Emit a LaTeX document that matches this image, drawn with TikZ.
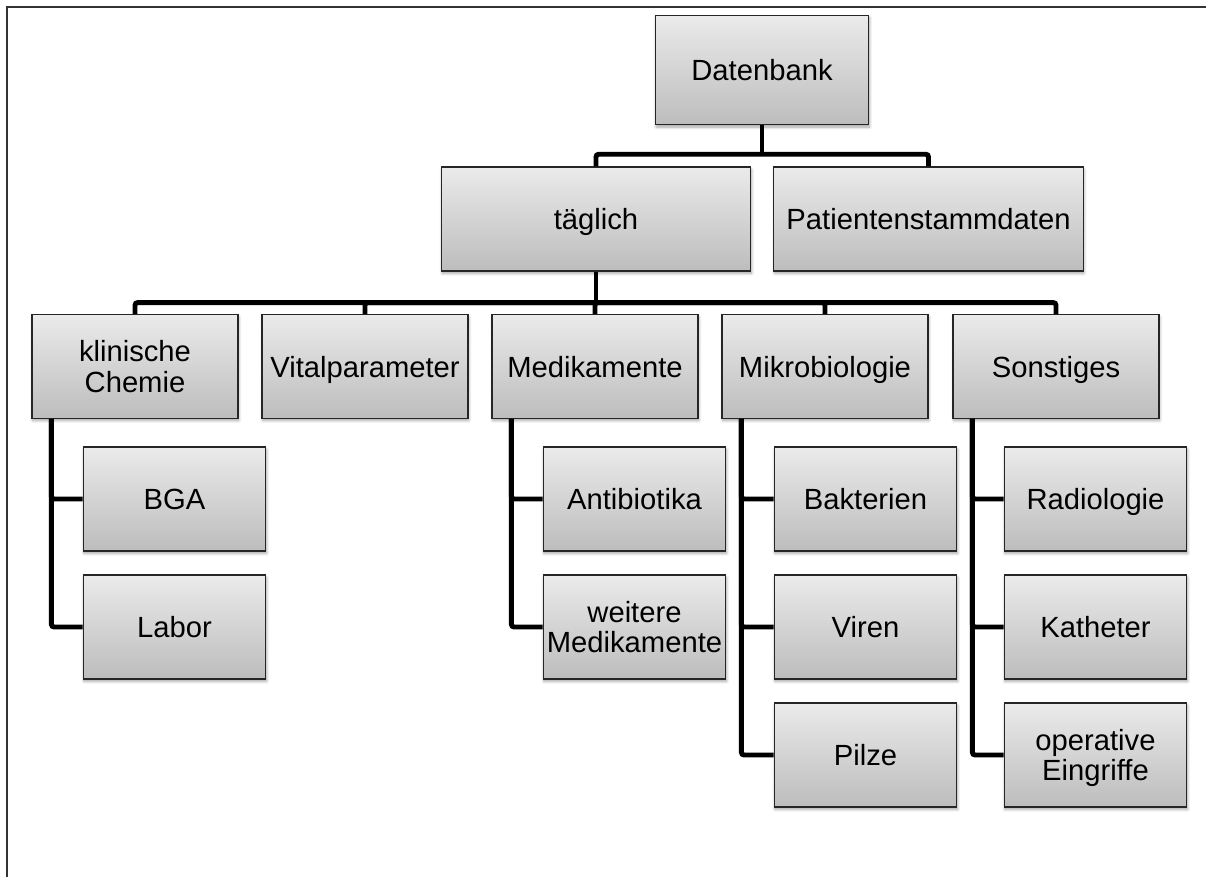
\documentclass[tikz,border=0pt]{standalone}
\usepackage{fontspec}
\setmainfont{Liberation Sans}
\usepackage{tikz}
\usetikzlibrary{shadows.blur}

\begin{document}
\begin{tikzpicture}
  [
    x=0.75pt, y=-0.75pt,
    Box/.style={rectangle, draw=black!85, line width=0.9pt, top color=black!8, bottom color=black!26,
      blur shadow={shadow xshift=0.6pt, shadow yshift=-1.8pt, shadow blur steps=6, shadow opacity=35},
      align=center, inner sep=1pt, text depth=0pt, font=\fontsize{21.9}{23}\selectfont},
    Wide/.style={Box, minimum width=232pt, minimum height=78pt},
    Head/.style={Box, minimum width=160pt, minimum height=82pt},
    Mid/.style={Box, minimum width=154.5pt, minimum height=77.5pt},
    Leaf/.style={Box, minimum width=137pt, minimum height=78pt},
    Line/.style={line width=3.7pt, rounded corners=2pt},
    Frame/.style={line width=1.5pt, draw=black!80}
  ]
  \useasboundingbox (0,0) rectangle (1206,877);
  \path [draw, Frame] (1206,7) -- (7,7) -- (7,877);
  % Nodes
  \node[Head] (db) at(762, 70) {Datenbank};
  \node[Wide] (tg) at(596, 219) {täglich};
  \node[Wide] (ps) at(928.5, 219) {Patientenstammdaten};
  \node[Mid] (kc) at(135, 366.5) {klinische\\Chemie};
  \node[Mid] (vp) at(365, 366.5) {Vitalparameter};
  \node[Mid] (mk) at(595, 366.5) {Medikamente};
  \node[Mid] (mb) at(825, 366.5) {Mikrobiologie};
  \node[Mid] (so) at(1056, 366.5) {Sonstiges};
  \node[Leaf] (bga) at(174.5, 499) {BGA};
  \node[Leaf] (lab) at(174.5, 627) {Labor};
  \node[Leaf] (ab) at(634.5, 499) {Antibiotika};
  \node[Leaf] (wm) at(634.5, 627) {weitere\\Medikamente};
  \node[Leaf] (bk) at(865.5, 499) {Bakterien};
  \node[Leaf] (vi) at(865.5, 627) {Viren};
  \node[Leaf] (pi) at(865.5, 755) {Pilze};
  \node[Leaf] (ra) at(1095.5, 499) {Radiologie};
  \node[Leaf] (ka) at(1095.5, 627) {Katheter};
  \node[Leaf] (oe) at(1095.5, 755) {operative\\Eingriffe};
  % Lines
  \path [draw, Line] (db.south) -- ++(0,29) coordinate (j1);
  \path [draw, Line] (tg.north) |- (j1) -| (ps.north);
  \path [draw, Line] (tg.south) -- ++(0,31) coordinate (j2);
  \path [draw, Line] (kc.north) |- (j2) -| (so.north);
  \foreach \n in {vp,mk,mb}
    \path [draw, Line] (j2) -| (\n.north);
  \path [draw, Line] ([xshift=15pt]kc.south west) |- (bga.west);
  \path [draw, Line] ([xshift=15pt]kc.south west) |- (lab.west);
  \path [draw, Line] ([xshift=15pt]mk.south west) |- (ab.west);
  \path [draw, Line] ([xshift=15pt]mk.south west) |- (wm.west);
  \foreach \c in {bk,vi,pi}
    \path [draw, Line] ([xshift=15pt]mb.south west) |- (\c.west);
  \foreach \c in {ra,ka,oe}
    \path [draw, Line] ([xshift=15pt]so.south west) |- (\c.west);
\end{tikzpicture}
\end{document}
